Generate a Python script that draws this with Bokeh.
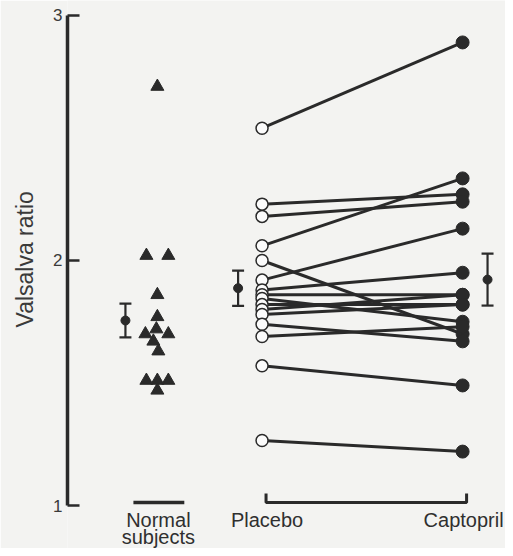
from bokeh.plotting import figure
from bokeh.models import Range1d, FixedTicker, Title
from bokeh.core.properties import value
from bokeh.embed import file_html
from bokeh.resources import INLINE

# ---------------- data ----------------
normal_ratio = [2.71, 2.02, 2.02, 1.86, 1.77, 1.72, 1.70, 1.70, 1.67, 1.63, 1.51, 1.51, 1.51, 1.47]
placebo_ratio = [2.54, 2.23, 2.18, 2.06, 2.00, 1.92, 1.88, 1.86, 1.845, 1.82, 1.80, 1.78, 1.74, 1.69, 1.57, 1.265]
captopril_ratio = [2.89, 2.27, 2.24, 2.335, 1.70, 2.13, 1.95, 1.86, 1.75, 1.82, 1.86, 1.82, 1.67, 1.73, 1.49, 1.22]
group_means = [1.755, 1.887, 1.922]      # normal, placebo, captopril
group_sems = [0.069, 0.072, 0.106]
y_ticks = [1, 2, 3]
y_label = "Valsalva ratio"
cat_labels = ["Normal", "subjects", "Placebo", "Captopril"]

# ---------------- layout constants ----------------
X_NORMAL, X_PLACEBO, X_CAPTO = 0.478, 1.0, 2.0
PX = 1 / 201.0                      # one screen pixel in x data units
normal_jitter_px = [0, -11, 11, 0, 0, -1, -12, 11, -4, 1, -11, 0, 11, 0]
mean_x = [X_NORMAL - 32 * PX, X_PLACEBO - 24 * PX, X_CAPTO + 25 * PX]
INK = "#2a2a2a"
BG = "#f3f3f1"
FONT = "Liberation Sans"

p = figure(width=505, height=548,
           x_range=Range1d(0.0299, 2.2139), y_range=Range1d(0.8245, 3.0612),
           output_backend="svg", toolbar_location=None,
           x_axis_location=None,
           min_border_left=66, min_border_right=0, min_border_top=0, min_border_bottom=0)
p.background_fill_color = BG
p.border_fill_color = BG
p.outline_line_color = None
p.xgrid.visible = False
p.ygrid.visible = False

ax = p.yaxis[0]
ax.ticker = FixedTicker(ticks=y_ticks)
ax.bounds = (y_ticks[0], y_ticks[-1])
ax.axis_line_width = 3.5
ax.axis_line_color = INK
ax.major_tick_in = 12
ax.major_tick_out = 0
ax.major_tick_line_width = 2.5
ax.major_tick_line_color = INK
ax.minor_tick_line_color = None
ax.major_label_standoff = 5
ax.major_label_text_font = FONT
ax.major_label_text_font_size = "17px"
ax.major_label_text_color = "#3a3a3a"

p.add_layout(Title(text=y_label, align="left", vertical_align="top", offset=221, standoff=22,
                   text_font=FONT, text_font_size="23px", text_font_style="normal",
                   text_color="#3a3a3a"), "left")

# paired placebo -> captopril lines
n = len(placebo_ratio)
p.segment(x0=[X_PLACEBO] * n, y0=placebo_ratio, x1=[X_CAPTO] * n, y1=captopril_ratio,
          line_color=INK, line_width=3)
p.scatter([X_PLACEBO] * n, placebo_ratio, marker="circle", size=12,
          fill_color="#fbfbfb", line_color=INK, line_width=1.5)
p.scatter([X_CAPTO] * n, captopril_ratio, marker="circle", size=13,
          fill_color=INK, line_color=INK)

# normal subjects triangles
p.scatter([X_NORMAL + j * PX for j in normal_jitter_px], normal_ratio, marker="triangle",
          size=13, fill_color=INK, line_color=INK)

# mean +/- SEM bars
lo = [m - s for m, s in zip(group_means, group_sems)]
hi = [m + s for m, s in zip(group_means, group_sems)]
cap = 6 * PX
p.segment(x0=mean_x, y0=lo, x1=mean_x, y1=hi, line_color=INK, line_width=2.2)
p.segment(x0=[x - cap for x in mean_x], y0=lo, x1=[x + cap for x in mean_x], y1=lo,
          line_color=INK, line_width=2.2)
p.segment(x0=[x - cap for x in mean_x], y0=hi, x1=[x + cap for x in mean_x], y1=hi,
          line_color=INK, line_width=2.2)
p.scatter(mean_x, group_means, marker="circle", size=9, fill_color=INK, line_color=INK)

# group bars beneath
BASE = 1.012
p.line([X_NORMAL - 24 * PX, X_NORMAL + 27 * PX], [BASE, BASE], line_color=INK, line_width=3.5)
p.line([X_PLACEBO + 4 * PX, X_PLACEBO + 4 * PX, X_CAPTO + 4 * PX, X_CAPTO + 4 * PX],
       [BASE + 0.037, BASE, BASE, BASE + 0.037], line_color=INK, line_width=3)

# category labels
p.text(x=[X_NORMAL + 1 * PX, X_NORMAL + 1 * PX, X_PLACEBO + 5 * PX, X_CAPTO + 1 * PX],
       y=[0.939, 0.870, 0.939, 0.939], text=cat_labels,
       text_align="center", text_baseline="alphabetic",
       text_font=value(FONT), text_font_size="20px", text_color="#2f2f2f")

open("out.html", "w").write(file_html(p, INLINE))
